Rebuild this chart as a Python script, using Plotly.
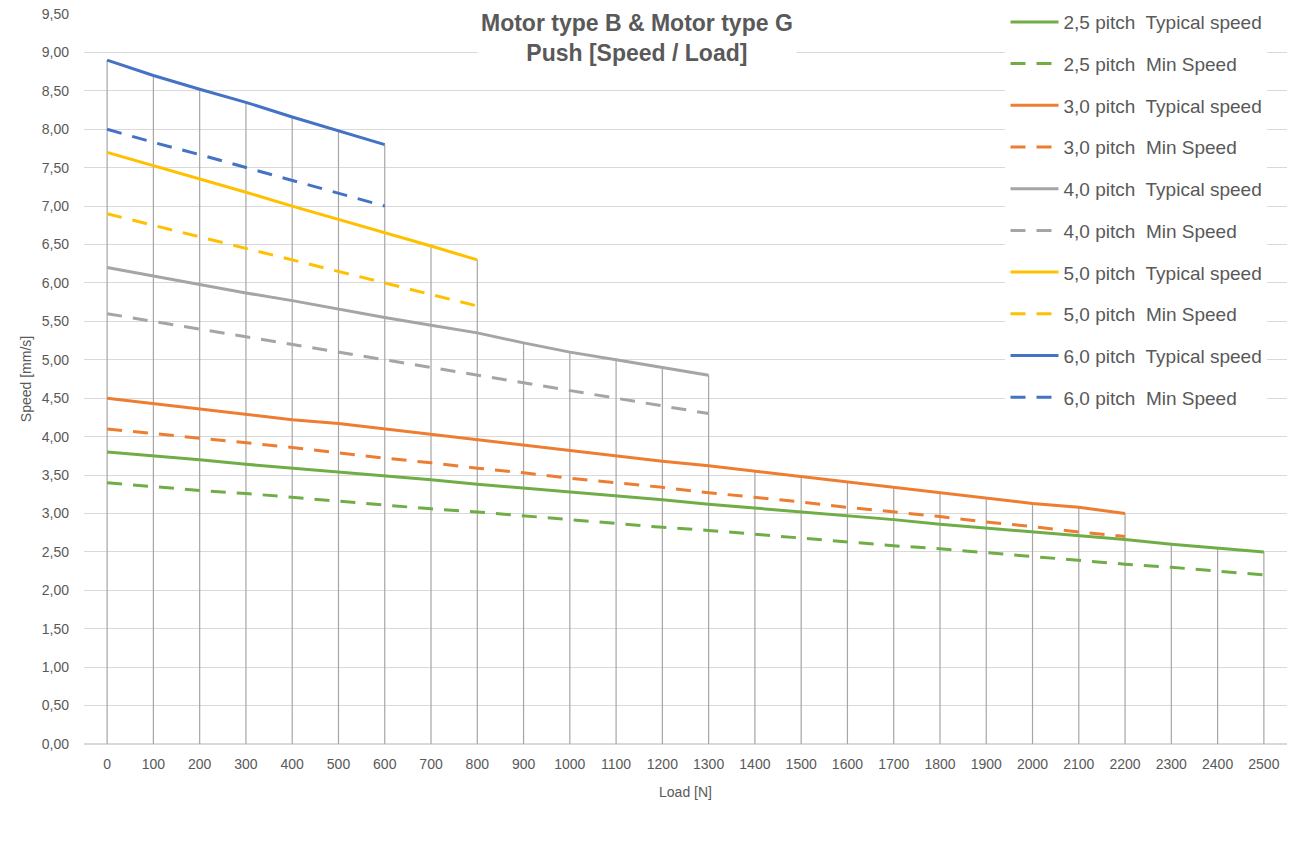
import plotly.graph_objects as go

# Load categories [N]
load = list(range(0, 2600, 100))

# Speed [mm/s] per pitch, typical and minimum
p25_typ = [3.80, 3.75, 3.70, 3.64, 3.59, 3.54, 3.49, 3.44, 3.38, 3.33, 3.28, 3.23, 3.18,
           3.12, 3.07, 3.02, 2.97, 2.92, 2.86, 2.81, 2.76, 2.71, 2.66, 2.60, 2.55, 2.50]
p25_min = [3.40, 3.35, 3.30, 3.26, 3.21, 3.16, 3.11, 3.06, 3.02, 2.97, 2.92, 2.87, 2.82,
           2.78, 2.73, 2.68, 2.63, 2.58, 2.54, 2.49, 2.44, 2.39, 2.34, 2.30, 2.25, 2.20]
p30_typ = [4.50, 4.43, 4.36, 4.29, 4.22, 4.17, 4.10, 4.03, 3.96, 3.89, 3.82, 3.75, 3.68,
           3.62, 3.55, 3.48, 3.41, 3.34, 3.27, 3.20, 3.13, 3.08, 3.00]
p30_min = [4.10, 4.04, 3.98, 3.92, 3.86, 3.79, 3.72, 3.66, 3.59, 3.53, 3.46, 3.40, 3.34,
           3.27, 3.21, 3.15, 3.08, 3.02, 2.96, 2.89, 2.83, 2.76, 2.70]
p40_typ = [6.20, 6.09, 5.98, 5.87, 5.77, 5.66, 5.55, 5.45, 5.35, 5.22, 5.10, 5.00, 4.90, 4.80]
p40_min = [5.60, 5.50, 5.40, 5.30, 5.20, 5.10, 5.00, 4.90, 4.80, 4.70, 4.60, 4.50, 4.40, 4.30]
p50_typ = [7.70, 7.53, 7.35, 7.18, 7.00, 6.83, 6.65, 6.48, 6.30]
p50_min = [6.90, 6.75, 6.60, 6.45, 6.30, 6.15, 6.00, 5.85, 5.70]
p60_typ = [8.90, 8.70, 8.52, 8.35, 8.16, 7.98, 7.80]
p60_min = [8.00, 7.83, 7.67, 7.50, 7.33, 7.17, 7.00]

y_ticks = [i * 0.5 for i in range(20)]

series = [
    ("2,5 pitch  Typical speed", p25_typ, "#70ad47", "solid"),
    ("2,5 pitch  Min Speed", p25_min, "#70ad47", "dash"),
    ("3,0 pitch  Typical speed", p30_typ, "#ed7d31", "solid"),
    ("3,0 pitch  Min Speed", p30_min, "#ed7d31", "dash"),
    ("4,0 pitch  Typical speed", p40_typ, "#a5a5a5", "solid"),
    ("4,0 pitch  Min Speed", p40_min, "#a5a5a5", "dash"),
    ("5,0 pitch  Typical speed", p50_typ, "#ffc000", "solid"),
    ("5,0 pitch  Min Speed", p50_min, "#ffc000", "dash"),
    ("6,0 pitch  Typical speed", p60_typ, "#4472c4", "solid"),
    ("6,0 pitch  Min Speed", p60_min, "#4472c4", "dash"),
]

fig = go.Figure()

# Drop lines: from the axis up to the highest series value at each load
drop_x, drop_y = [], []
for i, x in enumerate(load):
    top = max(vals[i] for _, vals, _, _ in series if i < len(vals))
    drop_x += [x, x, None]
    drop_y += [0, top, None]
fig.add_trace(go.Scatter(x=drop_x, y=drop_y, mode="lines",
                         line=dict(color="#a6a6a6", width=1.2),
                         showlegend=False, hoverinfo="skip"))

for k, (name, vals, color, dash) in enumerate(series):
    fig.add_trace(go.Scatter(
        x=load[:len(vals)], y=vals, name=name, mode="lines",
        legendgroup=f"g{k}",
        line=dict(color=color, width=3, dash="15px,11px" if dash == "dash" else "solid"),
    ))

font_family = "Liberation Sans, Arial, sans-serif"

fig.update_layout(
    width=1290, height=847,
    margin=dict(l=84, r=3, t=14, b=103),
    paper_bgcolor="white", plot_bgcolor="white",
    separators=",.",
    font=dict(family=font_family, color="#595959", size=14),
    showlegend=True,
    legend=dict(
        x=0.766, xanchor="left", y=1.015, yanchor="top",
        bgcolor="white", font=dict(size=19, color="#595959"),
        tracegroupgap=14, itemwidth=48, maxheight=700,
    ),
    xaxis=dict(
        range=[-50, 2550], tickmode="array", tickvals=load,
        ticktext=[str(v) for v in load], showgrid=False, zeroline=False,
        showline=False, ticks="", ticklabelstandoff=10,
        tickfont=dict(size=14, color="#595959"),
        title=dict(text="Load [N]", font=dict(size=14, color="#595959"), standoff=16),
    ),
    yaxis=dict(
        range=[0, 9.5], tickmode="array", tickvals=y_ticks, tickformat=".2f",
        showgrid=True, gridcolor="#d9d9d9", gridwidth=1, zeroline=True,
        zerolinecolor="#d9d9d9", zerolinewidth=1.5, ticks="", ticklabelstandoff=14,
        tickfont=dict(size=14, color="#595959"),
        title=dict(text="Speed [mm/s]", font=dict(size=14, color="#595959"), standoff=6),
    ),
)

fig.add_annotation(
    text="<b>Motor type B & Motor type G<br>Push [Speed / Load]</b>",
    xref="paper", yref="paper", x=0.46, y=1.0105, yanchor="top", xanchor="center",
    showarrow=False, align="center", bgcolor="white", borderpad=3,
    font=dict(size=23, color="#595959", family=font_family),
)

fig.write_html("out.html")
